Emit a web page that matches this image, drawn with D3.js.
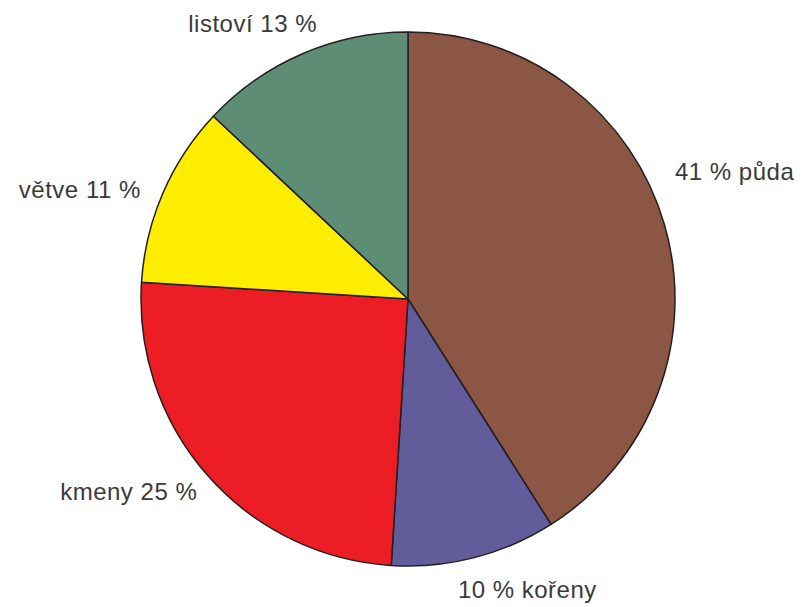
<!DOCTYPE html>
<html><head><meta charset="utf-8">
<script src="https://cdn.jsdelivr.net/npm/d3@7"></script>
<style>body{margin:0;background:#fff}svg{display:block}</style>
</head><body>
<svg id="c" width="802" height="607"></svg>
<script>
const categories = ["půda", "kořeny", "kmeny", "větve", "listoví"];
const values = [41, 10, 25, 11, 13];
const labels = ["41 % půda", "10 % kořeny", "kmeny 25 %", "větve 11 %", "listoví 13 %"];
const colors = ["#8b5644", "#625c9b", "#ec1d24", "#ffed00", "#5e8d76"];

const svg = d3.select("#c");
const cx = 408, cy = 299, r = 267;
const g = svg.append("g").attr("transform", `translate(${cx},${cy})`);
const pie = d3.pie().sort(null).value(d => d)(values);
const arc = d3.arc().innerRadius(0).outerRadius(r);
g.selectAll("path").data(pie).join("path")
  .attr("d", arc)
  .attr("fill", (d, i) => colors[i])
  .attr("stroke", "#231f20")
  .attr("stroke-width", 1.5)
  .attr("stroke-linejoin", "round");

// label layout: point on circle at mid-angle, then nudged
const anchors = ["start", "start", "end", "end", "end"];
const nudges = [[1, -42], [-19, 31], [-3, 18], [-13, 9], [19, -13]];
const lr = r + 10;
g.selectAll("text").data(pie).join("text")
  .attr("x", (d, i) => lr * Math.sin((d.startAngle + d.endAngle) / 2) + nudges[i][0])
  .attr("y", (d, i) => -lr * Math.cos((d.startAngle + d.endAngle) / 2) + nudges[i][1])
  .attr("text-anchor", (d, i) => anchors[i])
  .attr("font-family", "Liberation Sans, Arial, sans-serif")
  .attr("font-size", 24)
  .attr("letter-spacing", 0.5)
  .attr("fill", "#3a3a3a")
  .text((d, i) => labels[i]);
</script>
</body></html>
